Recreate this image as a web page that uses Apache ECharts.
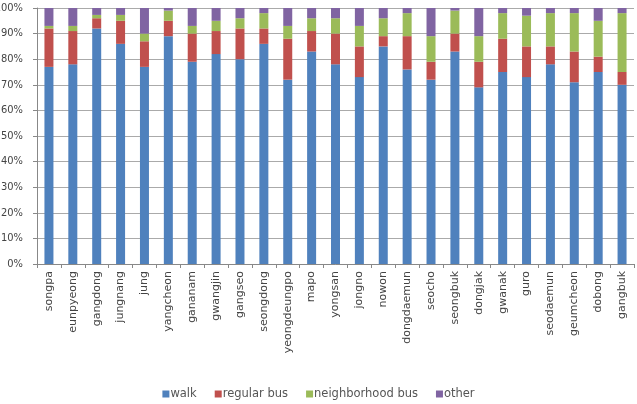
<!DOCTYPE html>
<html>
<head>
<meta charset="utf-8">
<script src="https://cdn.jsdelivr.net/npm/echarts@6/dist/echarts.min.js"></script>
<style>
  html, body { margin: 0; padding: 0; background: #fff; }
  #chart { width: 637px; height: 404px; }
</style>
</head>
<body>
<div id="chart"></div>
<script>
var districts = ['songpa','eunpyeong','gangdong','jungnang','jung','yangcheon','gananam','gwangjin','gangseo','seongdong',
  'yeongdeungpo','mapo','yongsan','jongno','nowon','dongdaemun','seocho','seongbuk','dongjak','gwanak',
  'guro','seodaemun','geumcheon','dobong','gangbuk'];
var walk         = [77,78,92,86,77,89,79,82,80,86,72,83,78,73,85,76,72,83,69,75,73,78,71,75,70];
var regularBus   = [15,13, 4, 9,10, 6,11, 9,12, 6,16, 8,12,12, 4,13, 7, 7,10,13,12, 7,12, 6, 5];
var neighborBus  = [ 1, 2, 1.3,2.3,3, 4, 3, 4, 4, 6, 5, 5, 6, 8, 7, 9,10, 9,10,10,12,13,15,14,23];
var other        = [ 7, 7, 2.7,2.7,10, 1, 7, 5, 4, 2, 7, 4, 4, 7, 4, 2,11, 1,11, 2, 3, 2, 2, 5, 2];

var font = 'DejaVu Sans';
var chart = echarts.init(document.getElementById('chart'));

function bar(name, data, color) {
  return { name: name, type: 'bar', stack: 'total', data: data, barWidth: 9,
    itemStyle: { color: color } };
}

chart.setOption({
  animation: false,
  // labels may run off the canvas like in the original (100% is clipped)
  grid: { left: 37, right: 3, top: 8, bottom: 140, containLabel: false, outerBoundsMode: 'none' },
  legend: {
    top: 388, left: 'center', padding: 0, itemWidth: 7, itemHeight: 7, itemGap: 18,
    icon: 'rect',
    textStyle: { fontFamily: font, fontSize: 11.5, color: '#555', padding: [0, 0, 0, -4] },
    data: ['walk','regular bus','neighborhood bus','other']
  },
  xAxis: {
    type: 'category', data: districts,
    axisLine: { lineStyle: { color: '#888' } },
    axisTick: { show: true, length: 4, lineStyle: { color: '#888' } },
    axisLabel: { rotate: 90, interval: 0, margin: 7, fontFamily: font, fontSize: 11, color: '#444' }
  },
  yAxis: {
    type: 'value', min: 0, max: 100, interval: 10,
    axisLine: { show: true, lineStyle: { color: '#888' } },
    axisTick: { show: true, length: 4, lineStyle: { color: '#888' } },
    splitLine: { lineStyle: { color: '#aaa' } },
    axisLabel: { formatter: '{value}%', margin: 14, fontFamily: 'DejaVu Sans Condensed', fontSize: 11, color: '#444' }
  },
  series: [
    bar('walk', walk, '#4F81BD'),
    bar('regular bus', regularBus, '#C0504D'),
    bar('neighborhood bus', neighborBus, '#9BBB59'),
    bar('other', other, '#8064A2')
  ]
});
</script>
</body>
</html>
